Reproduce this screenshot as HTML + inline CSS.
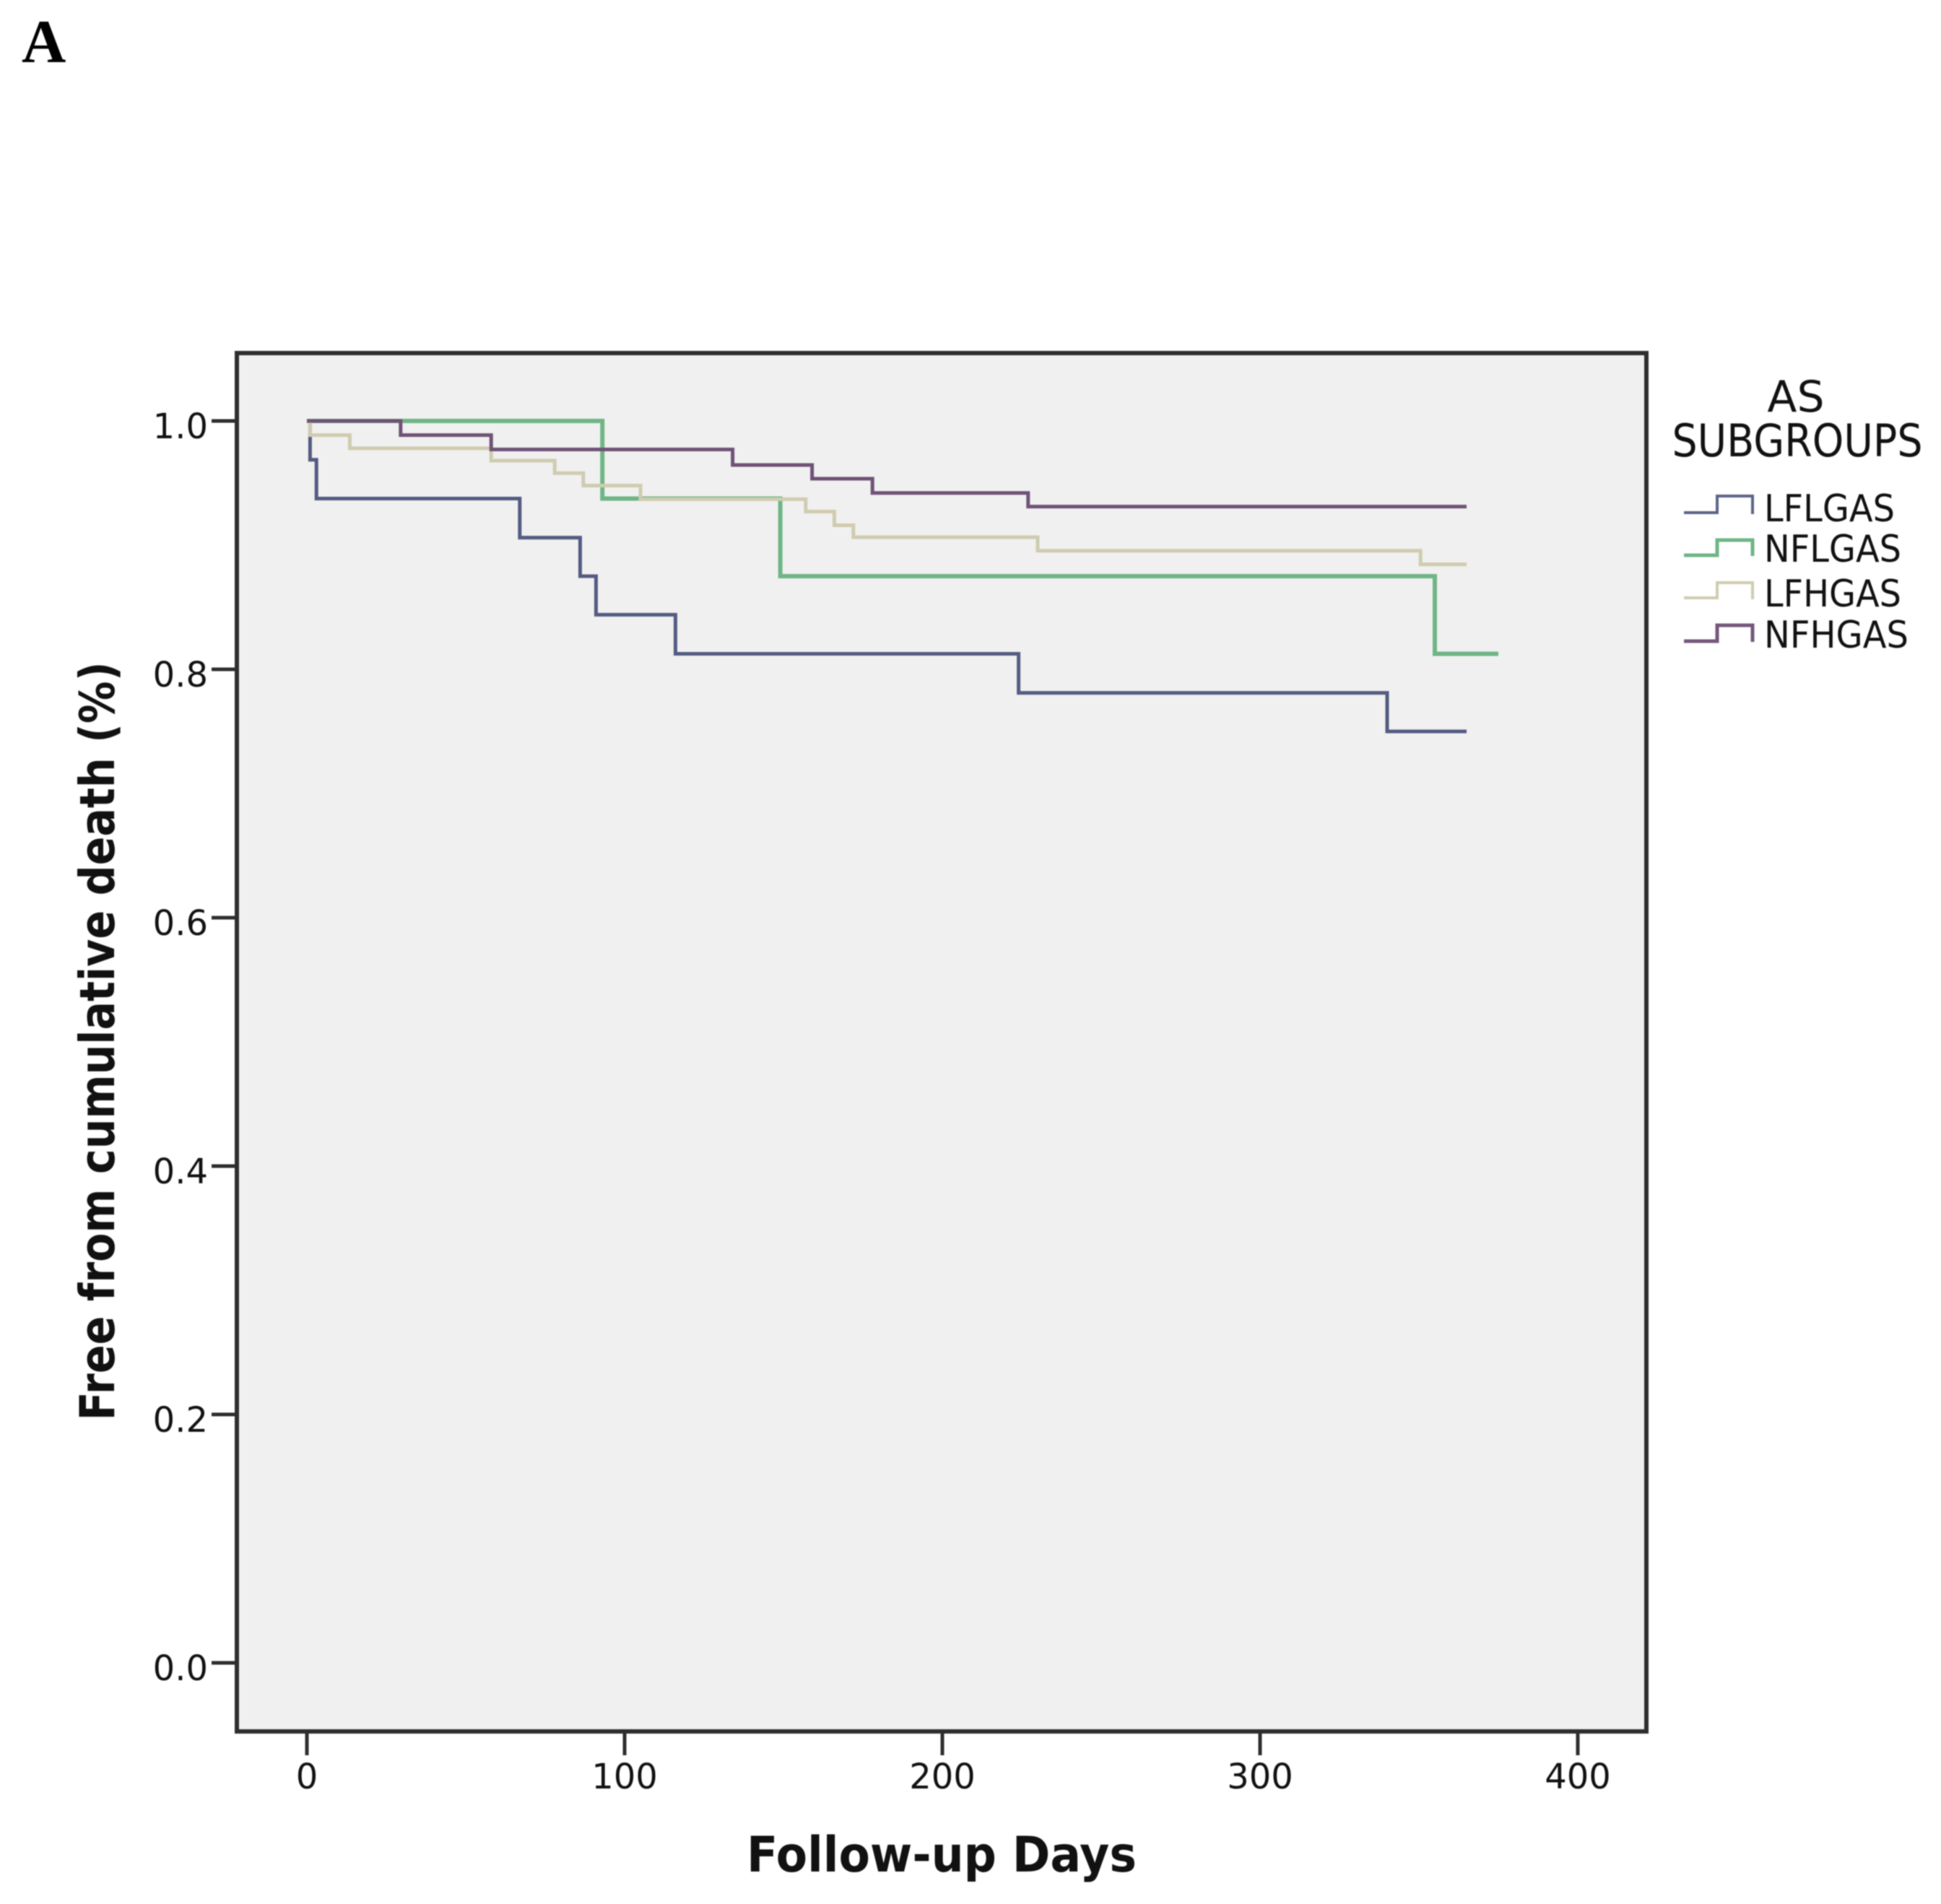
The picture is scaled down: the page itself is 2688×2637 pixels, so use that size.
<!DOCTYPE html>
<html lang="en">
<head>
<meta charset="utf-8">
<title>Kaplan-Meier survival curves by AS subgroup</title>
<style>
html,body{margin:0;padding:0;background:#fff;}
svg{display:block;filter:blur(0.7px);}
text{fill:#111;font-family:"DejaVu Sans","Liberation Sans",sans-serif;}
</style>
</head>
<body>
<svg id="chart" xmlns="http://www.w3.org/2000/svg" width="2688" height="2637" viewBox="0 0 2688 2637">
  <rect x="-10" y="-10" width="2708" height="2657" fill="#ffffff"/>
  <text x="30" y="86" style="font-family:'Liberation Serif',serif;font-weight:bold;font-size:85px;fill:#000">A</text>
  <rect x="328" y="489" width="1952" height="1909" fill="#f0f0f0"/>
  <g id="marks"></g>
  <rect x="328" y="489" width="1952" height="1909" fill="none" stroke="#2e2e2e" stroke-width="6"/>
  <g id="axes"></g>
  <text x="1304" y="2592" text-anchor="middle" textLength="540" lengthAdjust="spacingAndGlyphs" style="font-weight:bold;font-size:68px">Follow-up Days</text>
  <text transform="translate(158,1442) rotate(-90)" text-anchor="middle" textLength="1051" lengthAdjust="spacingAndGlyphs" style="font-weight:bold;font-size:67px">Free from cumulative death (%)</text>
  <g>
    <text x="2487" y="570" text-anchor="middle" style="font-size:60px">AS</text>
    <text x="2489" y="632" text-anchor="middle" textLength="347" lengthAdjust="spacingAndGlyphs" style="font-size:62px">SUBGROUPS</text>
    <path d="M2332 710H2378V687H2427V712" fill="none" stroke="#5d6488" stroke-width="4"/>
    <text x="2443" y="722" textLength="181" lengthAdjust="spacingAndGlyphs" style="font-size:52px">LFLGAS</text>
    <path d="M2332 769H2378V748H2427V770" fill="none" stroke="#6fb585" stroke-width="5"/>
    <text x="2443" y="778" textLength="190" lengthAdjust="spacingAndGlyphs" style="font-size:52px">NFLGAS</text>
    <path d="M2332 828H2378V807H2427V830" fill="none" stroke="#cfccb0" stroke-width="4"/>
    <text x="2443" y="840" textLength="190" lengthAdjust="spacingAndGlyphs" style="font-size:52px">LFHGAS</text>
    <path d="M2332 888H2378V866H2427V889" fill="none" stroke="#75587c" stroke-width="5"/>
    <text x="2443" y="897" textLength="200" lengthAdjust="spacingAndGlyphs" style="font-size:52px">NFHGAS</text>
  </g>
</svg>
<script>
const xTicks = [0, 100, 200, 300, 400];
const yTicks = [0.0, 0.2, 0.4, 0.6, 0.8, 1.0];

const lflgasDays = [0, 1, 3, 67, 86, 91, 116, 224, 340, 365];
const lflgasSurv = [1.0, 0.96875, 0.9375, 0.906, 0.875, 0.844, 0.8125, 0.781, 0.75, 0.75];

const nflgasDays = [0, 93, 149, 355, 375];
const nflgasSurv = [1.0, 0.9375, 0.875, 0.8125, 0.8125];

const lfhgasDays = [0, 1, 13.5, 58, 78, 87, 105, 157, 166, 172, 230, 350.5, 365];
const lfhgasSurv = [1.0, 0.9886, 0.978, 0.968, 0.958, 0.948, 0.937, 0.927, 0.916, 0.9064, 0.8955, 0.8845, 0.8845];

const nfhgasDays = [0, 29.5, 58, 134, 159, 178, 227, 365];
const nfhgasSurv = [1.0, 0.9886, 0.977, 0.9645, 0.9535, 0.942, 0.931, 0.931];

const NS = 'http://www.w3.org/2000/svg';
function xScale(day) { return 425 + day * 4.4; }
function yScale(v) { return 2303 - v * 1720; }

function stepPath(days, surv) {
  let d = 'M' + xScale(days[0]) + ' ' + yScale(surv[0]);
  for (let i = 1; i < days.length; i++) {
    d += 'H' + xScale(days[i]) + 'V' + yScale(surv[i]);
  }
  return d;
}

const marks = document.getElementById('marks');
const axes = document.getElementById('axes');

const curveLflgas = document.createElementNS(NS, 'path');


curveLflgas.setAttribute('d', stepPath(lflgasDays, lflgasSurv));
curveLflgas.setAttribute('fill', 'none');
curveLflgas.setAttribute('stroke', '#545b82');
curveLflgas.setAttribute('stroke-width', '5');
marks.appendChild(curveLflgas);

const curveNflgas = document.createElementNS(NS, 'path');


curveNflgas.setAttribute('d', stepPath(nflgasDays, nflgasSurv));
curveNflgas.setAttribute('fill', 'none');
curveNflgas.setAttribute('stroke', '#6fb585');
curveNflgas.setAttribute('stroke-width', '6');
marks.appendChild(curveNflgas);

const curveLfhgas = document.createElementNS(NS, 'path');


curveLfhgas.setAttribute('d', stepPath(lfhgasDays, lfhgasSurv));
curveLfhgas.setAttribute('fill', 'none');
curveLfhgas.setAttribute('stroke', '#cfccb0');
curveLfhgas.setAttribute('stroke-width', '5');
marks.appendChild(curveLfhgas);

const curveNfhgas = document.createElementNS(NS, 'path');


curveNfhgas.setAttribute('d', stepPath(nfhgasDays, nfhgasSurv));
curveNfhgas.setAttribute('fill', 'none');
curveNfhgas.setAttribute('stroke', '#6f5276');
curveNfhgas.setAttribute('stroke-width', '5');
marks.appendChild(curveNfhgas);

xTicks.forEach(function (t) {
  const line = document.createElementNS(NS, 'line');
  
  
  line.setAttribute('x1', xScale(t));
  line.setAttribute('x2', xScale(t));
  line.setAttribute('y1', 2398);
  line.setAttribute('y2', 2431);
  line.setAttribute('stroke', '#2e2e2e');
  line.setAttribute('stroke-width', '5');
  axes.appendChild(line);
  const label = document.createElementNS(NS, 'text');
  
  
  label.setAttribute('x', xScale(t));
  label.setAttribute('y', 2477);
  label.setAttribute('text-anchor', 'middle');
  label.setAttribute('style', 'font-size:48px');
  label.textContent = String(t);
  axes.appendChild(label);
});

yTicks.forEach(function (t) {
  const line = document.createElementNS(NS, 'line');
  
  
  line.setAttribute('x1', 293);
  line.setAttribute('x2', 328);
  line.setAttribute('y1', yScale(t));
  line.setAttribute('y2', yScale(t));
  line.setAttribute('stroke', '#2e2e2e');
  line.setAttribute('stroke-width', '5');
  axes.appendChild(line);
  const label = document.createElementNS(NS, 'text');
  
  
  label.setAttribute('x', 288);
  label.setAttribute('y', yScale(t) + 24);
  label.setAttribute('text-anchor', 'end');
  label.setAttribute('style', 'font-size:48px');
  label.textContent = t.toFixed(1);
  axes.appendChild(label);
});
</script>
</body>
</html>
